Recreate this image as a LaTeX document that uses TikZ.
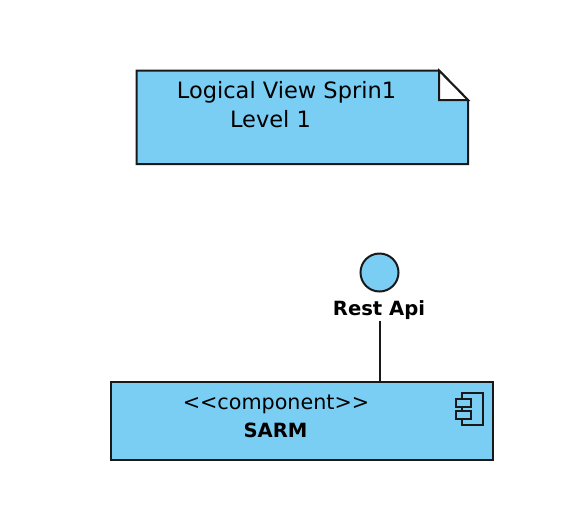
\documentclass[tikz,border=0pt]{standalone}
\usepackage{fontspec}
\setmainfont{DejaVu Sans}
\definecolor{umlblue}{HTML}{7ACEF4}
\tikzset{
  umlline/.style={draw=black!90,line width=2pt},
  umlfill/.style={umlline,fill=umlblue,line join=miter},
  umltext/.style={inner sep=0pt,text=black,font=\fontsize{22.5}{26}\selectfont,anchor=center},
  umlstereo/.style={inner sep=0pt,text=black,font=\fontsize{20.7}{24}\selectfont,anchor=center},
  umlbold/.style={inner sep=0pt,text=black,font=\fontsize{19.6}{24}\selectfont\bfseries,anchor=center}
}
\begin{document}
\begin{tikzpicture}[x=1pt,y=-1pt]
\useasboundingbox (0,0) rectangle (570,528);
% note
\path[umlfill] (136.5,70.5) -- (439,70.5) -- (468,100) -- (468,164) -- (136.5,164) -- cycle;
\path[umlline,fill=white,line join=miter] (439,70.5) -- (468,100) -- (439,100) -- cycle;
\node[umltext] (t1) at (286.5,92) {Logical View Sprin1};
\node[umltext] (t2) at (270.5,119) {Level 1};
% interface
\node[umlfill,circle,minimum size=38pt,inner sep=0pt] (iface) at (379.5,272.5) {};
\node[umlbold] (lbl) at (379,310) {Rest Api};
% component
\node[umlfill,rectangle,minimum width=382pt,minimum height=78pt,inner sep=0pt] (comp) at (301.5,421) {};
\node[umlstereo] (st) at (276,404.5) {{<}{<}component{>}{>}};
\node[umlbold] (nm) at (275.5,430) {SARM};
% icon
\path[umlline,fill=none] (462,392.5) rectangle (483,425);
\path[umlfill] (456,398.5) rectangle (471,407);
\path[umlfill] (456,411) rectangle (471,419);
% connector
\draw[umlline] (iface.center |- lbl.south) ++(0,1) -- (iface.center |- comp.north);
\end{tikzpicture}
\end{document}
